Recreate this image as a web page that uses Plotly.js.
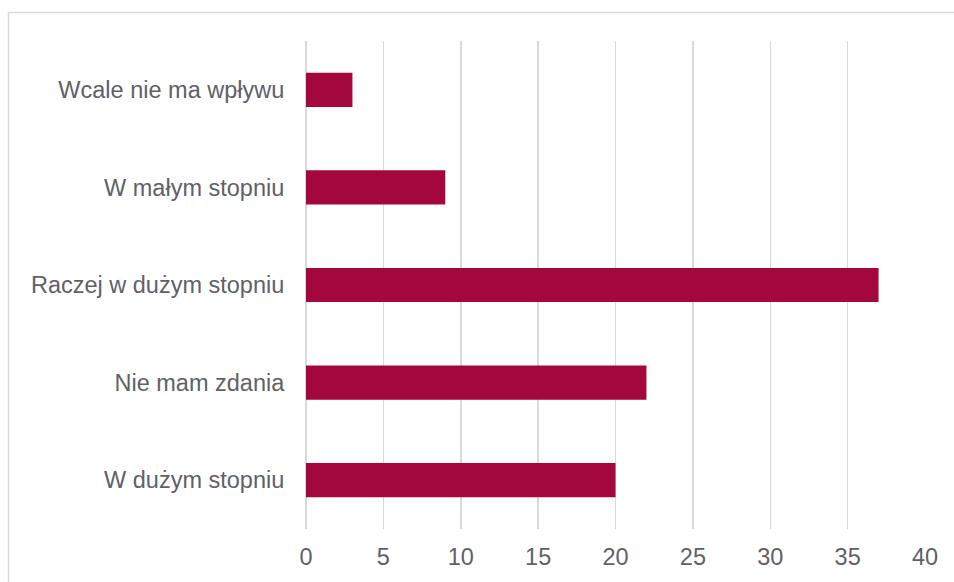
<!DOCTYPE html>
<html>
<head>
<meta charset="utf-8">
<script src="https://cdn.plot.ly/plotly-3.0.1.min.js"></script>
<style>html,body{margin:0;padding:0;background:#fff;}#chart{width:954px;height:582px;}</style>
</head>
<body>
<div id="chart"></div>
<script>
const categories = ["Wcale nie ma wpływu", "W małym stopniu", "Raczej w dużym stopniu", "Nie mam zdania", "W dużym stopniu"];
const values = [3, 9, 37, 22, 20];
const xTicks = [0, 5, 10, 15, 20, 25, 30, 35, 40];

const trace = {
  type: 'bar',
  orientation: 'h',
  y: categories,
  x: values,
  marker: {color: '#A4063E'},
  hoverinfo: 'x+y'
};

const layout = {
  width: 954,
  height: 582,
  margin: {l: 306, r: 29, t: 41, b: 53},
  paper_bgcolor: '#ffffff',
  plot_bgcolor: '#ffffff',
  bargap: 0.65,
  showlegend: false,
  font: {family: 'Liberation Sans, Arial, sans-serif', size: 23.5, color: '#5f6166'},
  xaxis: {
    range: [0, 40],
    tickvals: xTicks,
    ticktext: xTicks.map(String),
    showgrid: true,
    gridcolor: '#d9d9d9',
    gridwidth: 1.5,
    zeroline: true,
    zerolinecolor: '#d9d9d9',
    zerolinewidth: 1.5,
    showline: false,
    ticks: 'outside',
    ticklen: 7,
    tickcolor: 'rgba(0,0,0,0)',
    tickfont: {size: 23.5, color: '#5f6166'},
    fixedrange: true
  },
  yaxis: {
    autorange: 'reversed',
    showgrid: false,
    zeroline: false,
    showline: false,
    ticks: 'outside',
    ticklen: 16,
    tickcolor: 'rgba(0,0,0,0)',
    tickfont: {size: 23.5, color: '#5f6166'},
    fixedrange: true
  },
  shapes: [{
    type: 'rect',
    xref: 'paper', yref: 'paper',
    x0: (8.5 - 306) / 619, x1: (960 - 306) / 619,
    y0: (529 - 590) / 488, y1: (529 - 12.5) / 488,
    line: {color: '#d9d9d9', width: 1.5},
    fillcolor: 'rgba(0,0,0,0)',
    layer: 'below'
  }]
};

Plotly.newPlot('chart', [trace], layout, {displayModeBar: false, staticPlot: true});
</script>
</body>
</html>
